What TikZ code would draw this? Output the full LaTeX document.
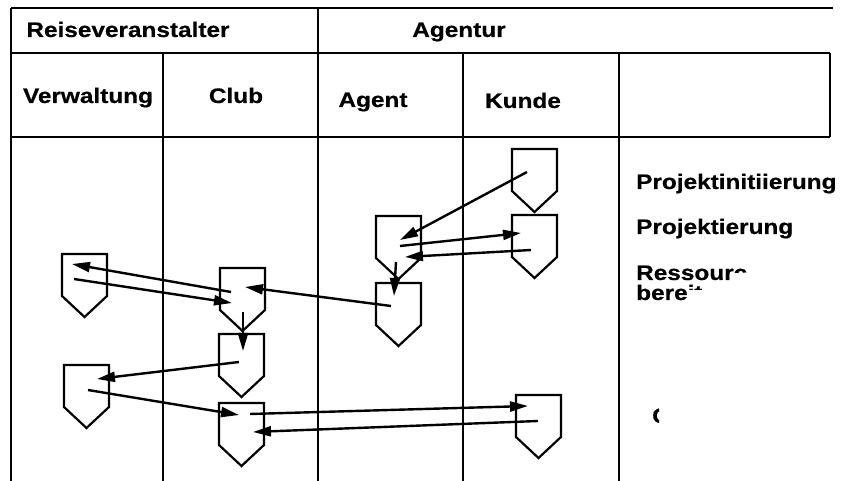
\documentclass[tikz,border=0pt]{standalone}
\usepackage{fontspec}
\setmainfont{Liberation Sans}[BoldFeatures={FakeBold=0.5}]
\usetikzlibrary{arrows.meta,calc}

% horizontally widened label text
\newcommand\widetext[1]{\scalebox{1.16}[1]{#1}}

% shield-shaped activity box: name, x, y of the top-left corner
\newcommand\shieldnode[3]{%
  \node[shieldbox] (#1) at (#2,#3) {};
  \draw[shapeline] (#1.north west) -- (#1.north east)
    -- ([yshift=21pt]#1.south east) -- (#1.south)
    -- ([yshift=21pt]#1.south west) -- cycle;}

\begin{document}
\begin{tikzpicture}[x=1pt,y=-1pt,
  grid/.style={line width=2pt},
  shapeline/.style={line width=2.2pt, line join=miter},
  flow/.style={line width=2.4pt, -{Triangle[length=18pt,width=10pt]}},
  shieldbox/.style={inner sep=0pt, outer sep=0pt, minimum width=45pt,
    minimum height=63pt, anchor=north west},
  lbl/.style={font=\fontsize{21pt}{25pt}\selectfont\bfseries, inner sep=0pt},
]
\useasboundingbox (0,0) rectangle (847,481);

% swimlane table
\draw[grid] (11,8) -- (833,8);
\draw[grid] (11,53) -- (830,53);
\draw[grid] (11,137) -- (830,137);
\draw[grid] (11,8) -- (11,481);
\draw[grid] (318,8) -- (318,481);
\draw[grid] (163,53) -- (163,481);
\draw[grid] (463,53) -- (463,481);
\draw[grid] (619,53) -- (619,481);
\draw[grid] (830,53) -- (830,137);

% headers
\node[lbl, anchor=base] (hReise) at (128,37) {\widetext{Reiseveranstalter}};
\node[lbl, anchor=base] (hAgentur) at (459,37) {\widetext{Agentur}};
\node[lbl, anchor=base] (hVerw) at (88,103) {\widetext{Verwaltung}};
\node[lbl, anchor=base] (hClub) at (236,103) {\widetext{Club}};
\node[lbl, anchor=base] (hAgent) at (373,107) {\widetext{Agent}};
\node[lbl, anchor=base] (hKunde) at (523,108) {\widetext{Kunde}};

% phase labels
\node[lbl, anchor=base west] (pInit) at (636,189) {\widetext{Projektinitiierung}};
\node[lbl, anchor=base west] (pProj) at (636,234) {\widetext{Projektierung}};
\begin{scope}
  \clip (630,250) -- (748,250) -- (748,273) -- (734,273) -- (734,284)
    -- (702,284) -- (702,290) -- (688,290) -- (688,312) -- (630,312) -- cycle;
  \node[lbl, anchor=base west] (pRes) at (636,280) {\widetext{Ressourcen-}};
  \node[lbl, anchor=base west] (pBer) at (636,300) {\widetext{bereitstellung}};
\end{scope}
\begin{scope}
  \clip (645,400) rectangle (659,430);
  \node[lbl, anchor=base west] (pC) at (652,423) {\widetext{C}};
\end{scope}

% activities
\shieldnode{k1}{512}{149}
\shieldnode{k2}{512}{215}
\shieldnode{a1}{376}{216}
\shieldnode{a2}{376}{283}
\shieldnode{v1}{62}{254}
\shieldnode{c1}{220}{268}
\shieldnode{c2}{219}{334}
\shieldnode{v2}{64}{365}
\shieldnode{c3}{219}{403}
\shieldnode{k3}{516}{395}

% flows between activities
\draw[flow] ($(k1.north west)+(15,23)$) -- ($(a1.north west)+(24,24)$);
\draw[flow] ($(a1.north west)+(24,30)$) -- ($(k2.north west)+(9,18)$);
\draw[flow] ($(k2.north west)+(19,35)$) -- ($(a1.north west)+(29,41)$);
\draw[flow] ($(a1.north west)+(20,46)$) -- ($(a2.north west)+(18,13)$);
\draw[flow] ($(a2.north west)+(15,23)$) -- ($(c1.north west)+(25,19)$);
\draw[flow] ($(c1.north west)+(11,24)$) -- ($(v1.north west)+(10,10)$);
\draw[flow] ($(v1.north west)+(12,25)$) -- ($(c1.north west)+(12,35)$);
\draw[flow] ($(c1.north west)+(23,44)$) -- ($(c2.north west)+(24,17)$);
\draw[flow] ($(c2.north west)+(20,28)$) -- ($(v2.north west)+(33,14)$);
\draw[flow] ($(v2.north west)+(24,25)$) -- ($(c3.north west)+(20,12)$);
\draw[flow] ($(c3.north west)+(31,11)$) -- ($(k3.north west)+(12,11)$);
\draw[flow] ($(k3.north west)+(22,26)$) -- ($(c3.north west)+(34,29)$);
\end{tikzpicture}
\end{document}
